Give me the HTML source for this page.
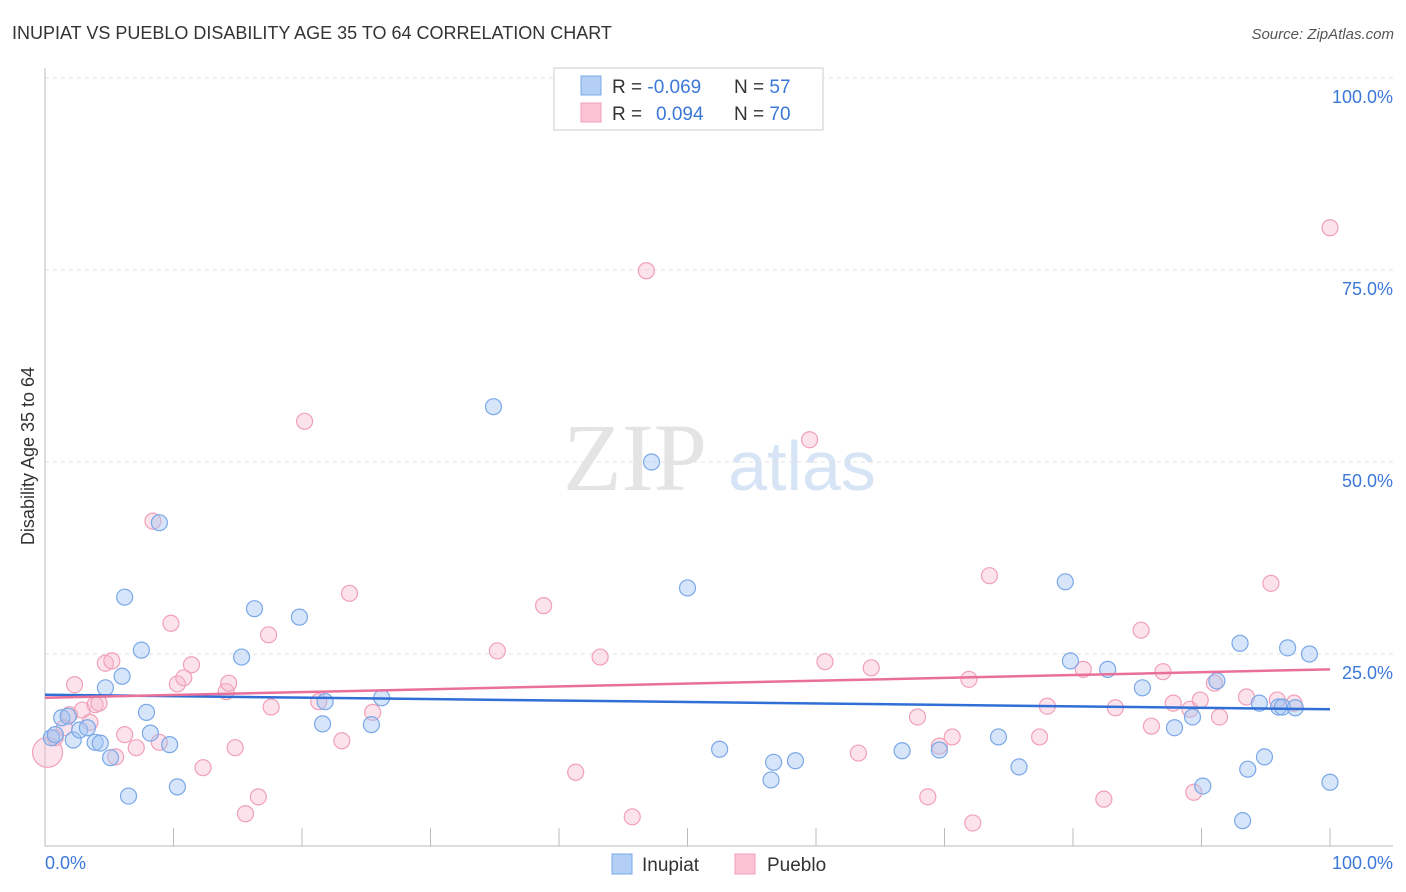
<!DOCTYPE html>
<html><head><meta charset="utf-8">
<style>
body{margin:0;background:#fff;font-family:"Liberation Sans",sans-serif;}
#wrap{position:relative;width:1406px;height:892px;overflow:hidden;}
</style></head>
<body>
<div id="wrap">
<svg id="svg" width="1406" height="892" xmlns="http://www.w3.org/2000/svg">
<text x="12" y="39" font-size="18" fill="#333">INUPIAT VS PUEBLO DISABILITY AGE 35 TO 64 CORRELATION CHART</text>
<text x="1394" y="39" font-size="15" font-style="italic" fill="#555" text-anchor="end">Source: ZipAtlas.com</text>
<text x="635" y="490" font-size="96" font-family="Liberation Serif,serif" fill="#e4e4e4" text-anchor="middle">ZIP</text>
<text x="802" y="490" font-size="70" fill="#d6e4f5" text-anchor="middle">atlas</text>
<g id="grid"></g>
<g id="axes"></g>
<g id="pts"></g>
<g id="lines"></g>
<text transform="translate(34,456) rotate(-90)" font-size="18" fill="#333" text-anchor="middle">Disability Age 35 to 64</text>
<text x="45" y="869" font-size="18" fill="#3b78d8">0.0%</text>
<text x="1393" y="869" font-size="18" fill="#3b78d8" text-anchor="end">100.0%</text>
<g>
<rect x="554" y="68" width="269" height="62" fill="#fff" stroke="#ccc"/>
<rect x="581" y="76" width="20" height="19" fill="#b4cff5" stroke="#7aa8e8"/>
<rect x="581" y="103" width="20" height="19" fill="#fbc3d3" stroke="#f0a0b8"/>
<text x="612" y="93" font-size="19" fill="#333">R = <tspan fill="#3b78d8">-0.069</tspan><tspan x="734">N = </tspan><tspan fill="#3b78d8">57</tspan></text>
<text x="612" y="120" font-size="19" fill="#333">R = <tspan x="656" fill="#3b78d8">0.094</tspan><tspan x="734">N = </tspan><tspan fill="#3b78d8">70</tspan></text>
</g>
<g>
<rect x="612" y="854" width="20" height="20" fill="#b4cff5" stroke="#7aa8e8"/>
<text x="642" y="871" font-size="19" fill="#333">Inupiat</text>
<rect x="735" y="854" width="20" height="20" fill="#fbc3d3" stroke="#f0a0b8"/>
<text x="767" y="871" font-size="19" fill="#333">Pueblo</text>
</g>
</svg>
</div>
<script>
const yTicks=[25,50,75,100];
const yTickLabels=["25.0%","50.0%","75.0%","100.0%"];
const xTicks=[10,20,30,40,50,60,70,80,90,100];
const inupiatX=[0.5,0.8,1.3,1.8,2.2,2.7,3.3,3.9,4.3,4.7,5.1,6.0,6.2,6.5,7.5,7.9,8.2,8.9,9.7,10.3,15.3,16.3,19.8,21.6,21.8,25.4,26.2,34.9,47.2,50.0,52.5,56.5,56.7,58.4,66.7,69.6,74.2,75.8,79.4,79.8,82.7,85.4,87.9,89.3,90.1,91.2,93.0,93.2,93.6,94.5,94.9,96.0,96.3,96.7,97.3,98.4,100.0];
const inupiatY=[14.1,14.5,16.7,16.9,13.8,15.1,15.4,13.5,13.4,20.6,11.5,22.1,32.4,6.5,25.5,17.4,14.7,42.1,13.2,7.7,24.6,30.9,29.8,15.9,18.8,15.8,19.3,57.2,50.0,33.6,12.6,8.6,10.9,11.1,12.4,12.5,14.2,10.3,34.4,24.1,23.0,20.6,15.4,16.8,7.8,21.5,26.4,3.3,10.0,18.6,11.6,18.1,18.1,25.8,18.0,25.0,8.3];
const puebloX=[0.2,0.8,1.5,1.9,2.3,2.9,3.5,3.9,4.2,4.7,5.2,5.5,6.2,7.1,8.4,8.9,9.8,10.3,10.8,11.4,12.3,14.1,14.3,14.8,15.6,16.6,17.4,17.6,20.2,21.3,23.1,23.7,25.5,35.2,38.8,41.3,43.2,45.7,46.8,59.5,60.7,63.3,64.3,67.9,68.7,69.6,70.6,71.9,72.2,73.5,77.4,78.0,80.8,82.4,83.3,85.3,86.1,87.0,87.8,89.1,89.4,89.9,91.0,91.4,93.5,95.4,95.9,97.2,100.0];
const puebloY=[12.2,14.1,15.4,17.1,21.0,17.7,16.1,18.4,18.6,23.8,24.1,11.6,14.5,12.8,42.3,13.5,29.0,21.1,21.9,23.6,10.2,20.1,21.2,12.8,4.2,6.4,27.5,18.1,55.3,18.8,13.7,32.9,17.4,25.4,31.3,9.6,24.6,3.8,74.9,52.9,24.0,12.1,23.2,16.8,6.4,13.0,14.2,21.7,3.0,35.2,14.2,18.2,23.0,6.1,18.0,28.1,15.6,22.7,18.6,17.8,7.0,19.0,21.2,16.8,19.4,34.2,19.0,18.6,80.5];
const inupiatTrend=[19.7,17.8];
const puebloTrend=[19.3,23.0];
const NS="http://www.w3.org/2000/svg";
const sx=v=>45+v*12.85, sy=v=>846-v*7.68;
function mk(tag,attrs,parent){const e=document.createElementNS(NS,tag);for(const k in attrs)e.setAttribute(k,attrs[k]);parent.appendChild(e);return e;}
const grid=document.getElementById('grid'),axes=document.getElementById('axes'),pts=document.getElementById('pts'),lines=document.getElementById('lines');
yTicks.forEach((t,i)=>{
 const l=mk('line',{x1:45,x2:1393,y1:sy(t),y2:sy(t),stroke:'#e2e2e2','stroke-dasharray':'4,4'},grid);
 
 
 const tx=mk('text',{x:1393,y:sy(t)+25,'font-size':18,fill:'#3b78d8','text-anchor':'end'},grid);
 tx.textContent=yTickLabels[i];
 
 
});
const ya=mk('line',{x1:45,x2:45,y1:68,y2:846,stroke:'#bbb'},axes);


const xa=mk('line',{x1:45,x2:1393,y1:846,y2:846,stroke:'#bbb'},axes);


xTicks.forEach(t=>{
 const l=mk('line',{x1:sx(t),x2:sx(t),y1:828,y2:846,stroke:'#bbb'},axes);
 
 
});
function drawPts(X,Y,fill,stroke,name){
 X.forEach((x,i)=>{
  const r=(x<0.5&&name==='pueblo-point')?15:8;
  const c=mk('circle',{cx:sx(x),cy:sy(Y[i]),r:r,fill:fill,stroke:stroke,'stroke-width':1.2},pts);
  
  
 });
}
drawPts(puebloX,puebloY,'rgba(248,185,205,0.4)','#f0a0b8','pueblo-point');
drawPts(inupiatX,inupiatY,'rgba(165,198,242,0.45)','#7aa8e8','inupiat-point');
const bl=mk('line',{x1:sx(0),x2:sx(100),y1:sy(inupiatTrend[0]),y2:sy(inupiatTrend[1]),stroke:'#2f6fd6','stroke-width':2.5},lines);


const pl=mk('line',{x1:sx(0),x2:sx(100),y1:sy(puebloTrend[0]),y2:sy(puebloTrend[1]),stroke:'#e8709a','stroke-width':2.5},lines);


</script>
</body></html>
